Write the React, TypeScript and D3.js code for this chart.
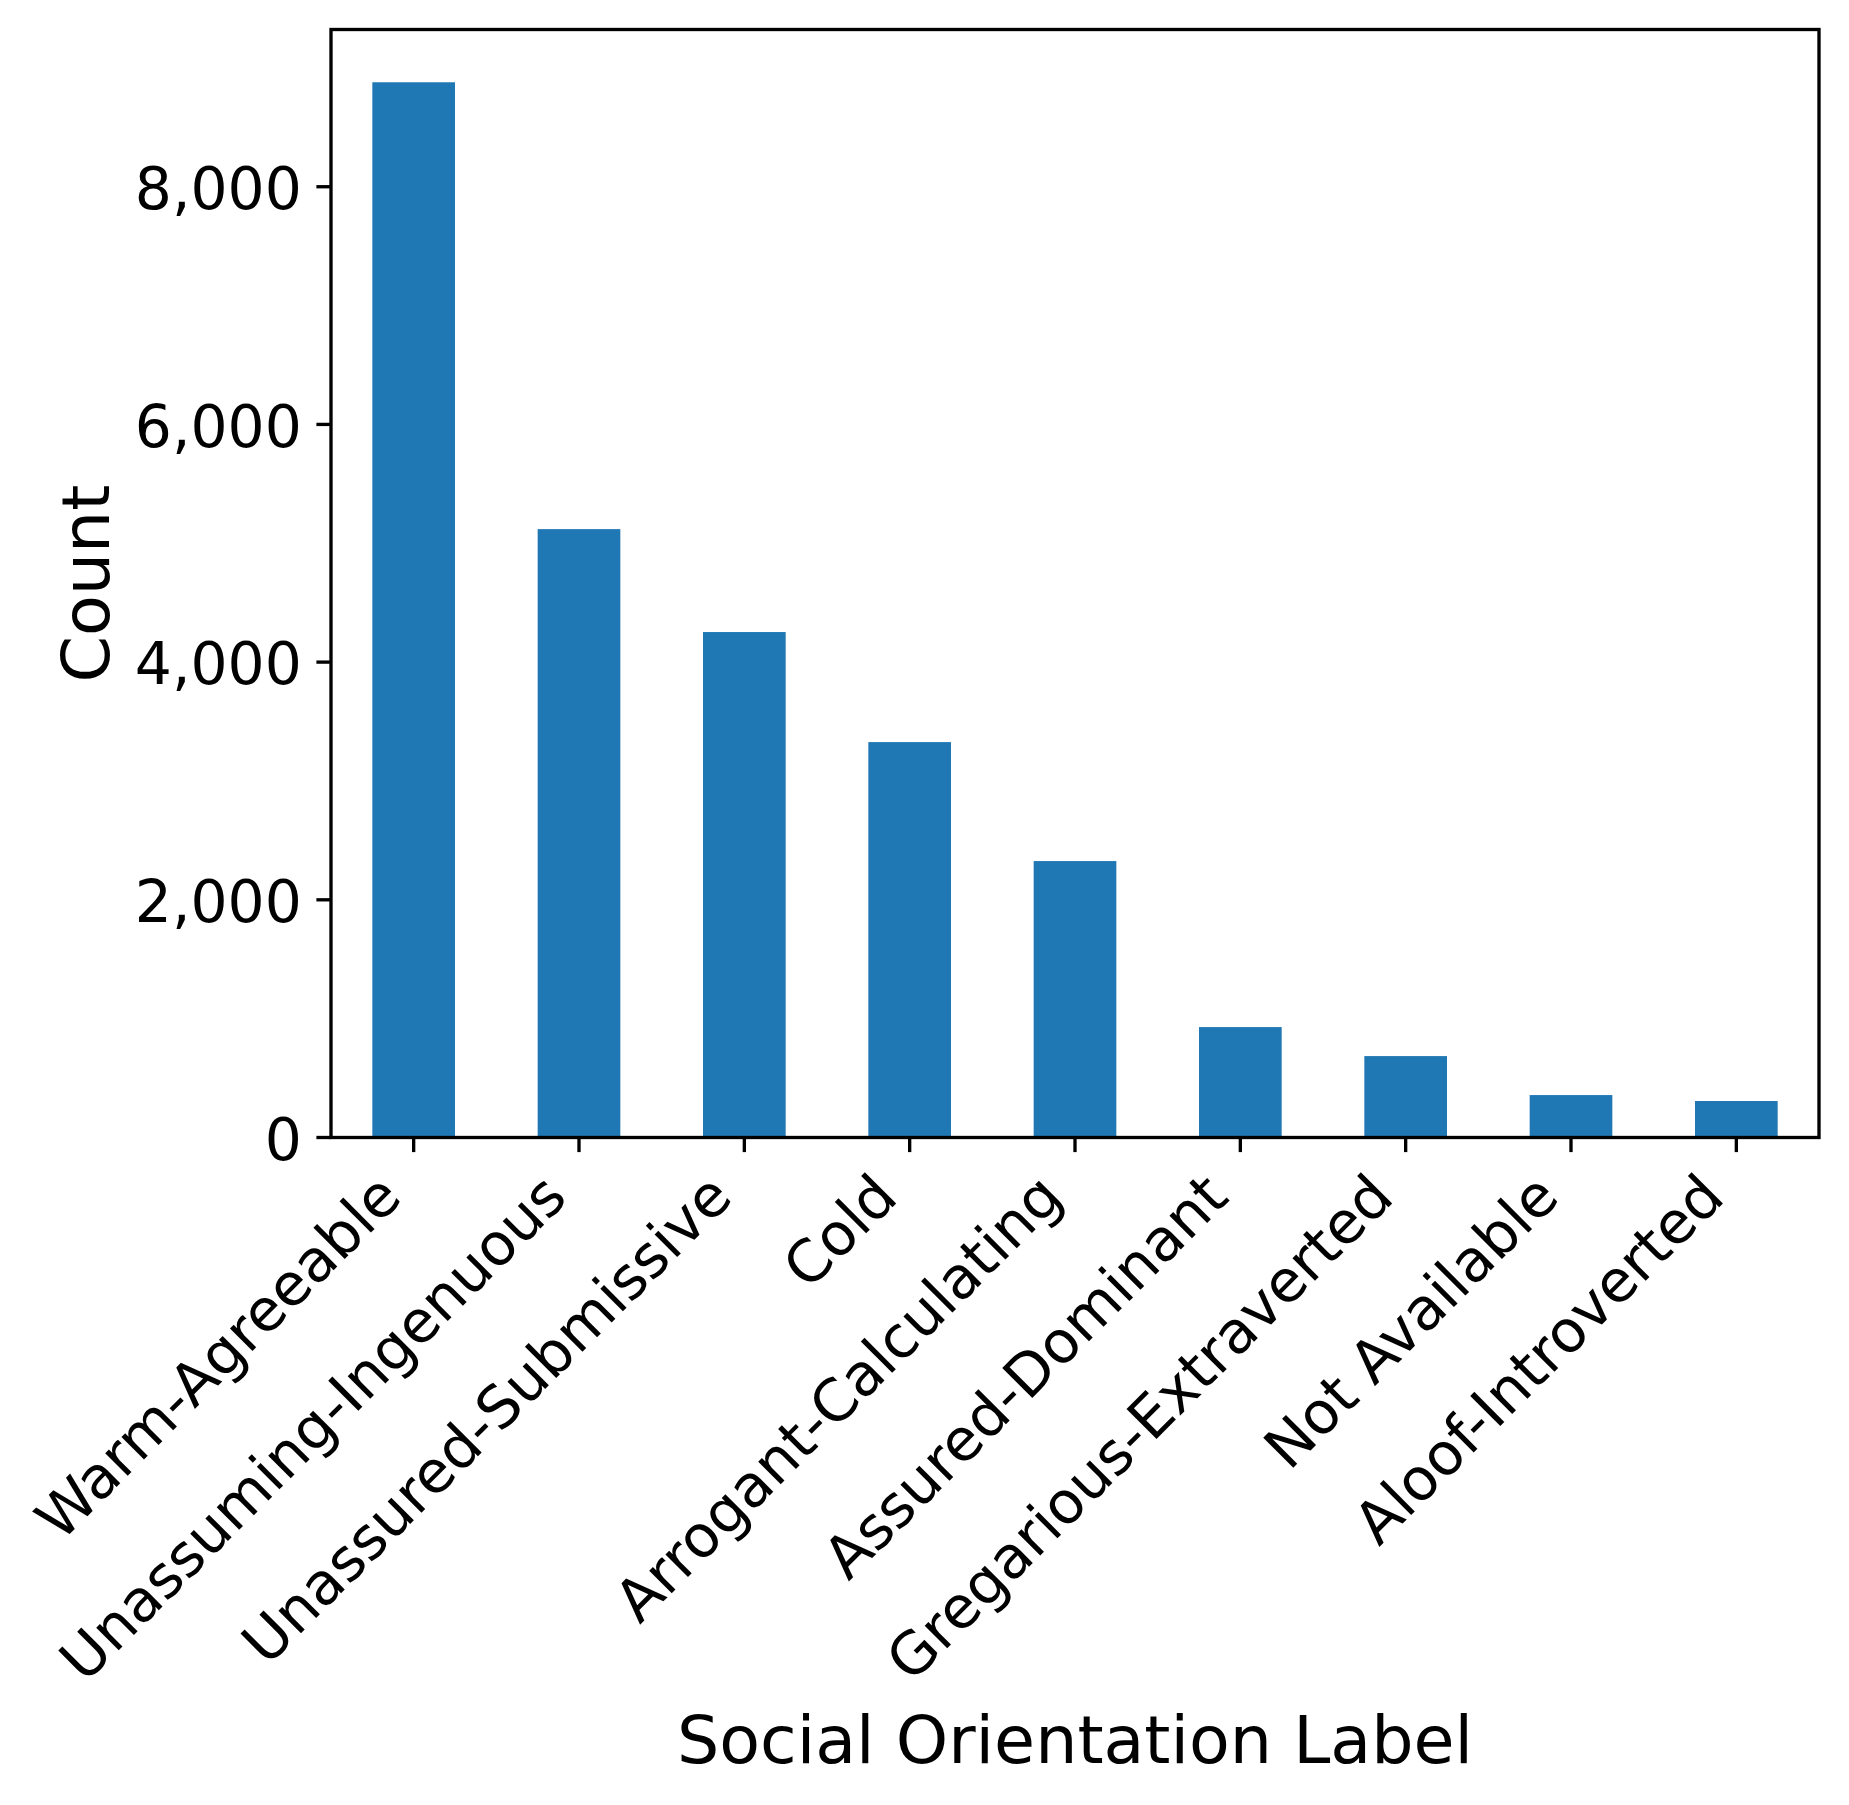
import React, { useEffect } from "react";
import * as d3 from "d3";

const categories = [
  "Warm-Agreeable",
  "Unassuming-Ingenuous",
  "Unassured-Submissive",
  "Cold",
  "Arrogant-Calculating",
  "Assured-Dominant",
  "Gregarious-Extraverted",
  "Not Available",
  "Aloof-Introverted",
];
const counts = [8879, 5119, 4253, 3327, 2326, 929, 685, 357, 307];
const yTicks = [0, 2000, 4000, 6000, 8000];
const xLabel = "Social Orientation Label";
const yLabel = "Count";

const W = 1849;
const H = 1805;
const left = 331;
const right = 1819;
const top = 29.5;
const bottom = 1137.5;
const tickFont = 58.33;
const labelFont = 66.67;
const tickLen = 14.6;
const lw = 3.33;
const barColor = "#1f77b4";
const font = "DejaVu Sans, sans-serif";

export default function App() {
  useEffect(() => {
    document.body.style.margin = "0";
  }, []);

  const x = d3
    .scaleBand<string>()
    .domain(categories)
    .range([left, right])
    .paddingInner(0.5)
    .paddingOuter(0.25);
  const yMax = (d3.max(counts) as number) * 1.05;
  const y = d3.scaleLinear().domain([0, yMax]).range([bottom, top]);
  const fmt = d3.format(",");

  const labelY = bottom + tickLen + tickLen + 0.707 * 0.8 * tickFont;

  return (
    <svg width={W} height={H} style={{ display: "block", background: "#fff" }} fontFamily={font}>
      <rect x={0} y={0} width={W} height={H} fill="#fff" />
      {categories.map((c, i) => (
        <rect
          key={c}
          x={x(c) as number}
          y={y(counts[i])}
          width={x.bandwidth()}
          height={bottom - y(counts[i])}
          fill={barColor}
        />
      ))}
      {/* y ticks */}
      {yTicks.map((t) => (
        <g key={t}>
          <line x1={left - tickLen} x2={left} y1={y(t)} y2={y(t)} stroke="#000" strokeWidth={lw} />
          <text
            x={left - tickLen - 14.6}
            y={y(t)}
            dy={0.38 * tickFont}
            textAnchor="end"
            fontSize={tickFont}
            fill="#000"
          >
            {fmt(t)}
          </text>
        </g>
      ))}
      {/* x ticks */}
      {categories.map((c) => {
        const cx = (x(c) as number) + x.bandwidth() / 2;
        const ax = cx - 0.707 * 0.236 * tickFont;
        return (
          <g key={c}>
            <line x1={cx} x2={cx} y1={bottom} y2={bottom + tickLen} stroke="#000" strokeWidth={lw} />
            <text
              transform={`translate(${ax},${labelY}) rotate(-45)`}
              textAnchor="end"
              fontSize={tickFont}
              fill="#000"
            >
              {c}
            </text>
          </g>
        );
      })}
      {/* spines */}
      <rect
        x={left}
        y={top}
        width={right - left}
        height={bottom - top}
        fill="none"
        stroke="#000"
        strokeWidth={lw}
        strokeLinejoin="miter"
        strokeLinecap="square"
      />
      <text
        x={(left + right) / 2}
        y={1763}
        textAnchor="middle"
        fontSize={labelFont}
        fill="#000"
      >
        {xLabel}
      </text>
      <text
        transform={`translate(108.5,${(top + bottom) / 2}) rotate(-90)`}
        textAnchor="middle"
        fontSize={labelFont}
        fill="#000"
      >
        {yLabel}
      </text>
    </svg>
  );
}
